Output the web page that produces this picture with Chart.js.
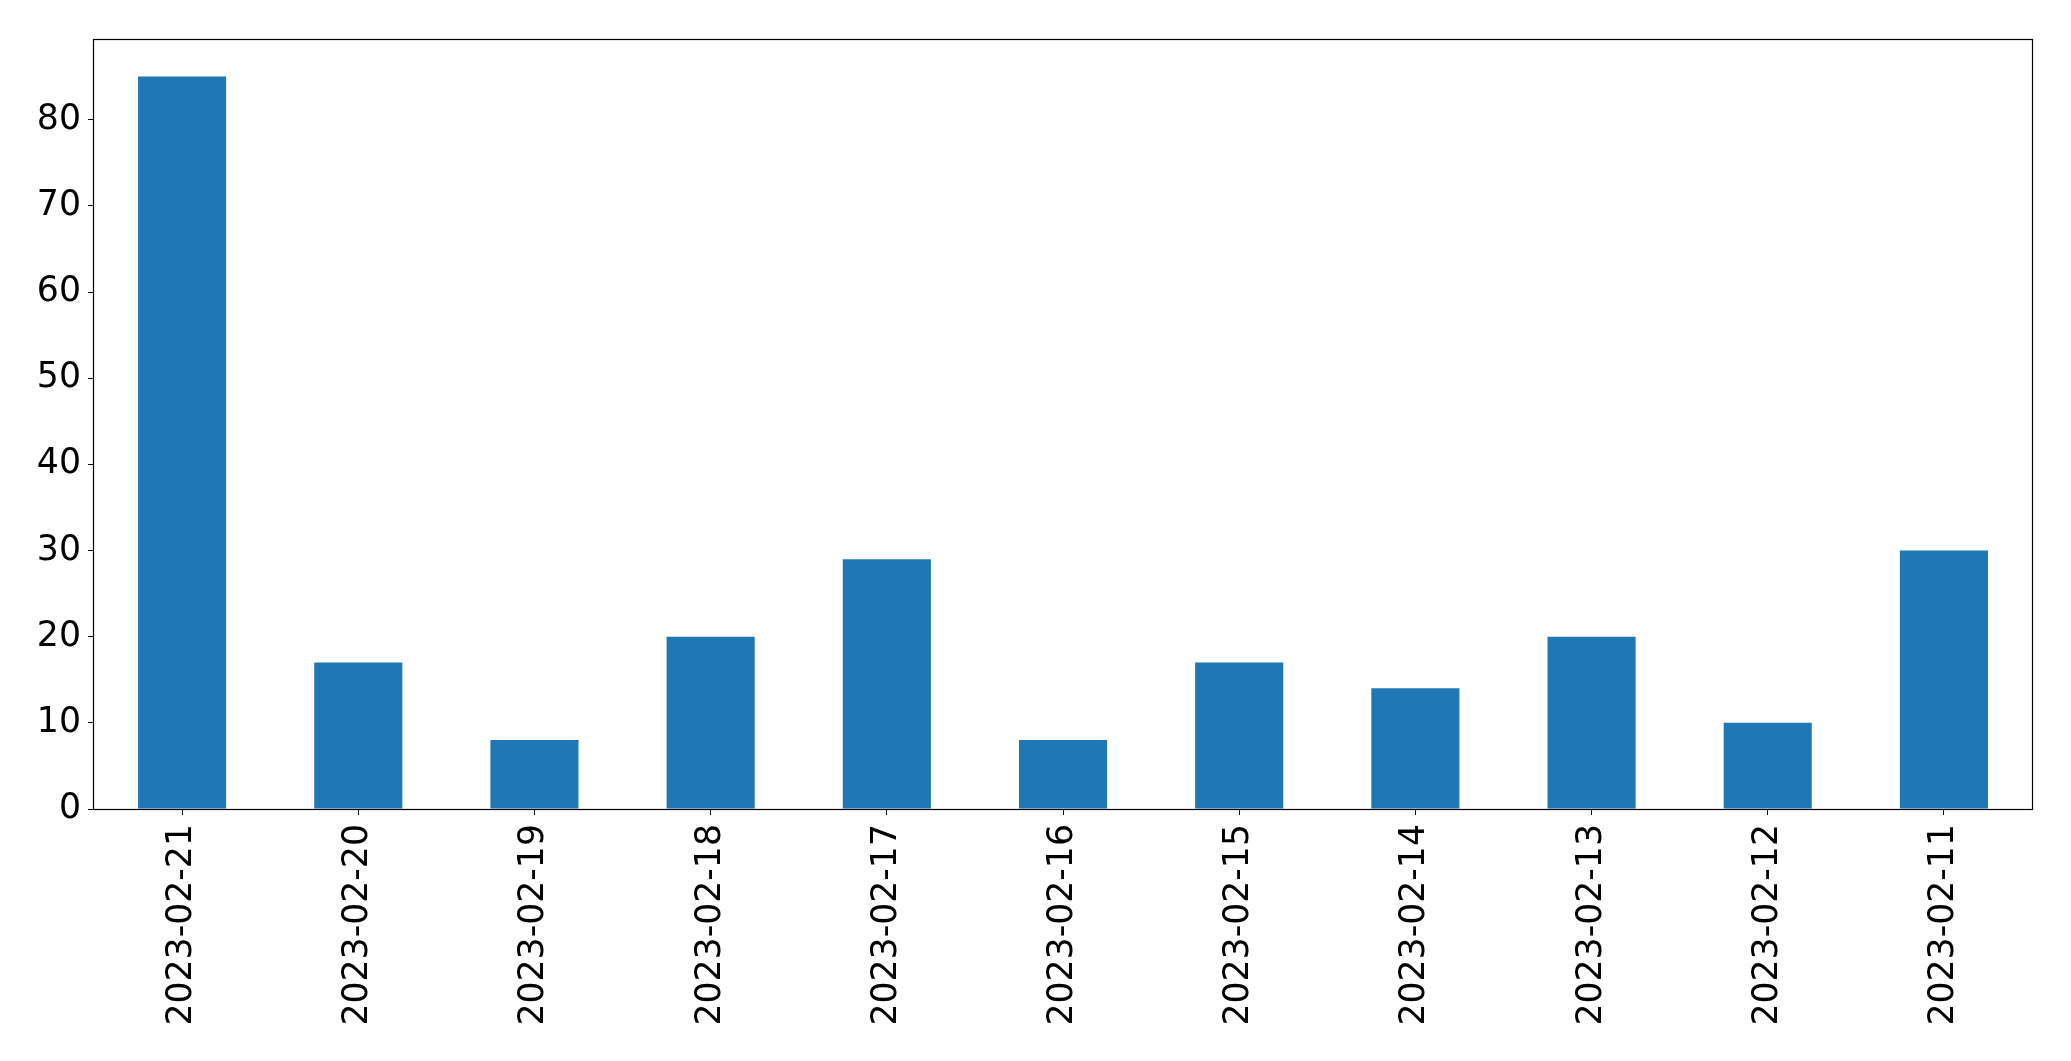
<!DOCTYPE html>
<html>
<head>
<meta charset="utf-8">
<script src="https://cdn.jsdelivr.net/npm/chart.js@4/dist/chart.umd.min.js"></script>
<style>
  html, body { margin: 0; padding: 0; background: #fff; }
  #wrap { width: 2071px; height: 1061px; }
</style>
</head>
<body>
<div id="wrap"><canvas id="chart" width="2071" height="1061"></canvas></div>
<script>
const dates = [
  '2023-02-21', '2023-02-20', '2023-02-19', '2023-02-18', '2023-02-17', '2023-02-16',
  '2023-02-15', '2023-02-14', '2023-02-13', '2023-02-12', '2023-02-11',
];
const counts = [85, 17, 8, 20, 29, 8, 17, 14, 20, 10, 30];
const yTicks = [0, 10, 20, 30, 40, 50, 60, 70, 80];

// frame around the plot area, like matplotlib spines
const frame = {
  id: 'frame',
  afterDraw(chart) {
    const { ctx, chartArea: a } = chart;
    const l = Math.round(a.left) - 0.5, t = Math.round(a.top) - 0.5;
    const r = Math.round(a.right) + 0.5, b = Math.round(a.bottom) + 0.5;
    ctx.save();
    ctx.strokeStyle = '#000';
    ctx.lineWidth = 1.2;
    ctx.strokeRect(l, t, r - l, b - t);
    ctx.restore();
  },
};

Chart.defaults.font.family = '"DejaVu Sans", sans-serif';
Chart.defaults.font.size = 34.7;
Chart.defaults.color = '#000';

new Chart(document.querySelector('#chart').getContext('2d'), {
  type: 'bar',
  data: {
    labels: dates,
    datasets: [
      {
        data: counts,
        backgroundColor: '#1f77b4',
        borderWidth: 0,
        categoryPercentage: 1,
        barPercentage: 0.5,
      },
    ],
  },
  options: {
    responsive: false,
    animation: false,
    layout: { padding: { top: 40, right: 39, bottom: 0, left: 0 } },
    plugins: { legend: { display: false }, tooltip: { enabled: false } },
    scales: {
      x: {
        offset: true,
        grid: { drawOnChartArea: false, color: '#000', tickLength: 6, offset: false },
        border: { display: false },
        ticks: { minRotation: 90, maxRotation: 90, padding: 9, autoSkip: false },
        afterFit(scale) { scale.height = 252; },
      },
      y: {
        min: 0,
        max: Math.max(...counts) * 1.05,
        afterBuildTicks(scale) { scale.ticks = yTicks.map(v => ({ value: v })); },
        grid: { drawOnChartArea: false, color: '#000', tickLength: 6 },
        border: { display: false },
        ticks: { padding: 7, includeBounds: false },
        afterFit(scale) { scale.width = 94; },
      },
    },
  },
  plugins: [frame],
});
</script>
</body>
</html>
